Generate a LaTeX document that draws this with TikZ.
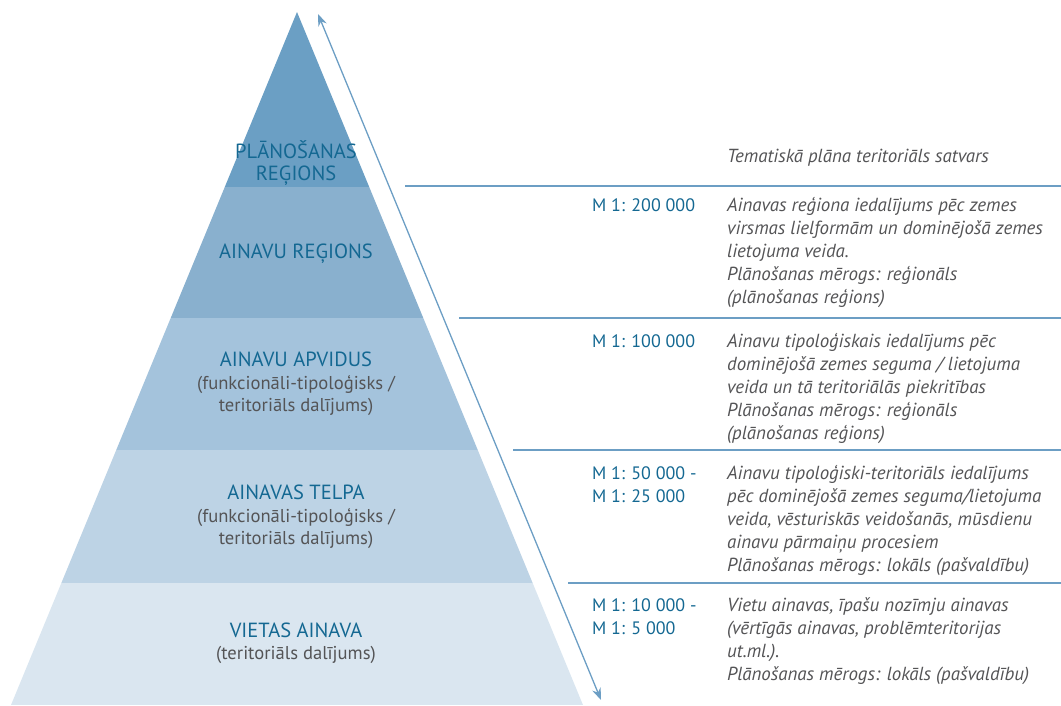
\documentclass[tikz,border=0pt]{standalone}
\usepackage{fontspec}
\setmainfont{PT Sans}
\usetikzlibrary{arrows.meta}

\definecolor{lyrA}{RGB}{107,159,196}
\definecolor{lyrB}{RGB}{137,176,206}
\definecolor{lyrC}{RGB}{164,195,220}
\definecolor{lyrD}{RGB}{189,211,229}
\definecolor{lyrE}{RGB}{218,230,240}
\definecolor{rulecol}{RGB}{108,158,196}
\definecolor{tierblue}{RGB}{20,104,146}
\definecolor{txtgray}{RGB}{84,84,86}
\newcommand{\subtxt}[1]{{\color{txtgray}\fontsize{18.6}{22.5}\selectfont #1}}

\begin{document}
\begin{tikzpicture}[x=1pt,y=-1pt,
	every node/.style = {inner sep=0pt},
	tiername/.style = {align=center, text=tierblue, font=\fontsize{20.5}{22.5}\selectfont},
	mlabel/.style = {anchor=north west, align=left, text=tierblue, font=\fontsize{18}{23}\selectfont},
	desc/.style = {anchor=north west, align=left, text=txtgray, font=\itshape\fontsize{18.9}{23}\selectfont},
	rule/.style = {draw=rulecol, line width=1.6pt}
	]
  \useasboundingbox (0,0) rectangle (1061,705);
  % pyramid bands
  \begin{scope}
    \clip (297,12) -- (583,705) -- (11,705) -- cycle;
    \fill[lyrA] (0,0) rectangle (1061,187);
    \fill[lyrB] (0,187) rectangle (1061,318);
    \fill[lyrC] (0,318) rectangle (1061,450);
    \fill[lyrD] (0,450) rectangle (1061,583);
    \fill[lyrE] (0,583) rectangle (1061,705);
  \end{scope}
  \node[tiername] (t1) at (296,163) {PLĀNOŠANAS\\REĢIONS};
  \node[tiername] (t2) at (296,254) {AINAVU REĢIONS};
  \node[tiername] (t3) at (296,384) {AINAVU APVIDUS\\\subtxt{(funkcionāli-tipoloģisks /}\\\subtxt{teritoriāls dalījums)}};
  \node[tiername] (t4) at (296,517) {AINAVAS TELPA\\\subtxt{(funkcionāli-tipoloģisks /}\\\subtxt{teritoriāls dalījums)}};
  \node[tiername] (t5) at (296,643) {VIETAS AINAVA\\\subtxt{(teritoriāls dalījums)}};
  % separators
  \foreach \y/\x in {186/405, 318/459, 450/513, 583/568}
    \draw[rule] (\x,\y) -- (1061,\y);
  % arrow along the pyramid side
  \coordinate (up) at (318,14);
  \coordinate (down) at (601,700);
  \draw[rule, line width=1.3pt, {Stealth[length=12pt,width=9pt]}-{Stealth[length=12pt,width=9pt]}] (up) -- (down);
  % scales and descriptions
  \node[desc] (d0) at (727,149) {Tematiskā plāna teritoriāls satvars};
  \node[mlabel] (m1) at (592,198) {M 1: 200 000};
  \node[desc] (d1) at (727,197) {Ainavas reģiona iedalījums pēc zemes\\virsmas lielformām un dominējošā zemes\\lietojuma veida.\\Plānošanas mērogs: reģionāls\\(plānošanas reģions)};
  \node[mlabel] (m2) at (592,334) {M 1: 100 000};
  \node[desc] (d2) at (727,333) {Ainavu tipoloģiskais iedalījums pēc\\dominējošā zemes seguma / lietojuma\\veida un tā teritoriālās piekritības\\Plānošanas mērogs: reģionāls\\(plānošanas reģions)};
  \node[mlabel] (m3) at (592,466) {M 1: 50 000 -\\M 1: 25 000};
  \node[desc] (d3) at (727,465) {Ainavu tipoloģiski-teritoriāls iedalījums\\pēc dominējošā zemes seguma/lietojuma\\veida, vēsturiskās veidošanās, mūsdienu\\ainavu pārmaiņu procesiem\\Plānošanas mērogs: lokāls (pašvaldību)};
  \node[mlabel] (m4) at (592,598) {M 1: 10 000 -\\M 1: 5 000};
  \node[desc] (d4) at (727,597) {Vietu ainavas, īpašu nozīmju ainavas\\(vērtīgās ainavas, problēmteritorijas\\ut.ml.).\\Plānošanas mērogs: lokāls (pašvaldību)};
\end{tikzpicture}
\end{document}
